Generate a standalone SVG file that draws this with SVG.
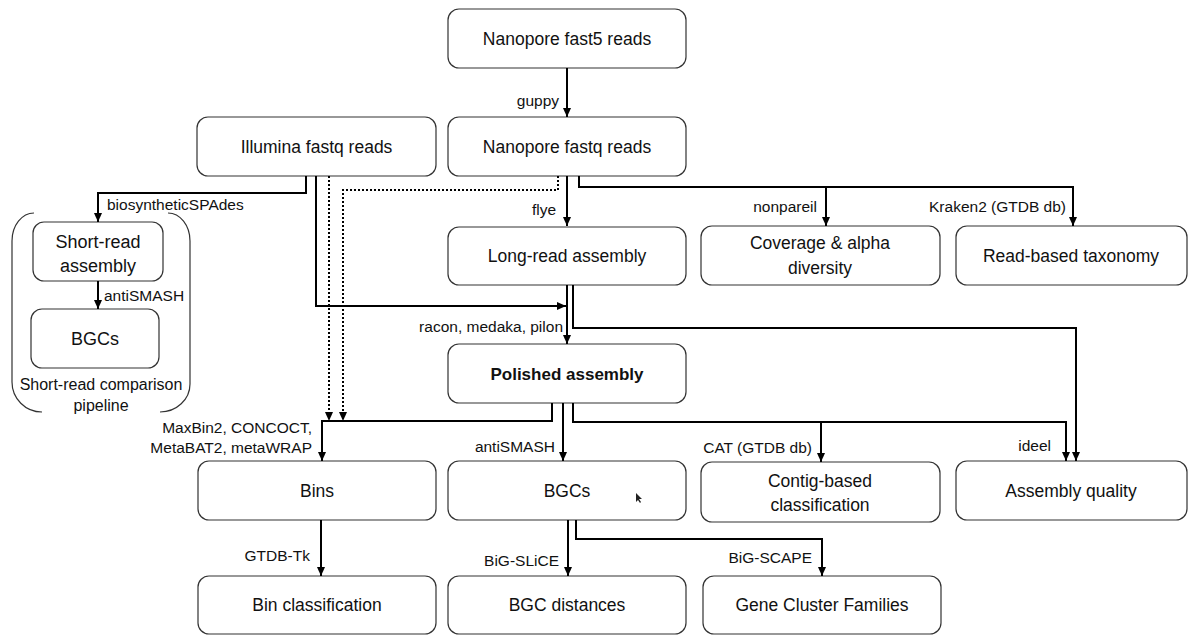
<svg xmlns="http://www.w3.org/2000/svg" width="1190" height="635" viewBox="0 0 1190 635">
<defs>
<marker id="ah" markerUnits="userSpaceOnUse" markerWidth="10" markerHeight="10" viewBox="0 0 10 10" refX="9" refY="5" orient="auto">
<path d="M0,1 L9,5 L0,9 Z" fill="#000"/>
</marker>
<style>
.n rect{fill:#fff;stroke:#333;stroke-width:1.2}
.t{font-family:"Liberation Sans",Arial,sans-serif;font-size:17.5px;fill:#111;text-anchor:middle}
.b{font-weight:bold;font-size:17px}
.l{font-family:"Liberation Sans",Arial,sans-serif;font-size:15.5px;fill:#111}
.e{text-anchor:end}
.c path,.c line{fill:none;stroke:#000;stroke-width:2}
.c .a{marker-end:url(#ah)}
.c .d{stroke-dasharray:2 2;stroke-width:2}
</style>
</defs>
<rect width="1190" height="635" fill="#fff"/>

<g id="bracket" fill="none" stroke="#333" stroke-width="1.2">
<path d="M34 213 A22 28 0 0 0 12 241 L12 382 A30 30 0 0 0 42 412"/>
<path d="M168 213 A22 28 0 0 1 190 241 L190 384 A30 28 0 0 1 160 412"/>
<text class="t" x="101" y="390" font-size="16" stroke="none" style="font-size:16px">Short-read comparison</text>
<text class="t" x="101" y="411" stroke="none" style="font-size:16px">pipeline</text>
</g>

<g id="fast5" class="n"><rect x="448" y="9" width="238" height="59" rx="11"/><text class="t" x="567" y="45">Nanopore fast5 reads</text></g>
<g id="illumina" class="n"><rect x="197" y="117" width="239" height="59" rx="11"/><text class="t" x="316.5" y="153">Illumina fastq reads</text></g>
<g id="fastq" class="n"><rect x="448" y="117" width="238" height="59" rx="11"/><text class="t" x="567" y="153">Nanopore fastq reads</text></g>
<g id="shortasm" class="n"><rect x="33" y="222" width="130" height="59" rx="11"/><text class="t" x="98" y="248" style="font-size:18px">Short-read</text><text class="t" x="98" y="272" style="font-size:18px">assembly</text></g>
<g id="bgcs_short" class="n"><rect x="31" y="309" width="128" height="59" rx="11"/><text class="t" x="95" y="345" style="font-size:18px">BGCs</text></g>
<g id="longasm" class="n"><rect x="448" y="227" width="238" height="58" rx="11"/><text class="t" x="567" y="262">Long-read assembly</text></g>
<g id="coverage" class="n"><rect x="701" y="226" width="239" height="59" rx="11"/><text class="t" x="820" y="249">Coverage &amp; alpha</text><text class="t" x="820" y="274">diversity</text></g>
<g id="readtax" class="n"><rect x="956" y="226" width="231" height="59" rx="11"/><text class="t" x="1071" y="262">Read-based taxonomy</text></g>
<g id="polished" class="n"><rect x="448" y="344" width="238" height="59" rx="11"/><text class="t b" x="567" y="380">Polished assembly</text></g>
<g id="bins" class="n"><rect x="198" y="461" width="238" height="59" rx="11"/><text class="t" x="317" y="497">Bins</text></g>
<g id="bgcs" class="n"><rect x="448" y="461" width="238" height="59" rx="11"/><text class="t" x="567" y="497">BGCs</text></g>
<g id="contig" class="n"><rect x="701" y="462" width="239" height="60" rx="11"/><text class="t" x="820" y="487">Contig-based</text><text class="t" x="820" y="511">classification</text></g>
<g id="aq" class="n"><rect x="956" y="461" width="231" height="59" rx="11"/><text class="t" x="1071" y="497">Assembly quality</text></g>
<g id="binclass" class="n"><rect x="198" y="576" width="238" height="58" rx="11"/><text class="t" x="317" y="611">Bin classification</text></g>
<g id="bgcdist" class="n"><rect x="448" y="576" width="238" height="58" rx="11"/><text class="t" x="567" y="611">BGC distances</text></g>
<g id="gcf" class="n"><rect x="703" y="576" width="238" height="58" rx="11"/><text class="t" x="822" y="611">Gene Cluster Families</text></g>

<g id="connectors" class="c">
<path class="a" d="M567 68 V117"/>
<path class="a" d="M306 176 V193 H98 V222"/>
<path class="a" d="M98 281 V309"/>
<path class="a" d="M316 176 V306 H566"/>
<path class="a d" d="M329 176 V421"/>
<path class="a d" d="M558 176 V190 H343 V421"/>
<path class="a" d="M567 176 V226"/>
<path class="a" d="M579 176 V187 H1073 V226"/>
<path class="a" d="M826 187 V226"/>
<path class="a" d="M567 285 V344"/>
<path class="a" d="M573 285 V328 H1076 V461"/>
<path class="a" d="M552 403 V421 H322 V461"/>
<path class="a" d="M563 403 V461"/>
<path class="a" d="M573 403 V422 H1066 V461"/>
<path class="a" d="M821 422 V462"/>
<path class="a" d="M321 520 V576"/>
<path class="a" d="M568 520 V576"/>
<path class="a" d="M576 520 V539 H822 V576"/>
</g>

<g id="labels">
<text class="l e" x="559" y="106">guppy</text>
<text class="l" x="107" y="210">biosyntheticSPAdes</text>
<text class="l" x="104" y="301">antiSMASH</text>
<text class="l e" x="556" y="215">flye</text>
<text class="l e" x="817" y="212">nonpareil</text>
<text class="l e" x="1066" y="212">Kraken2 (GTDB db)</text>
<text class="l e" x="563" y="332">racon, medaka, pilon</text>
<text class="l e" x="312" y="433">MaxBin2, CONCOCT,</text>
<text class="l e" x="312" y="453">MetaBAT2, metaWRAP</text>
<text class="l e" x="555" y="452">antiSMASH</text>
<text class="l e" x="812" y="453">CAT (GTDB db)</text>
<text class="l e" x="1051" y="451">ideel</text>
<text class="l e" x="310" y="561">GTDB-Tk</text>
<text class="l e" x="559" y="566">BiG-SLiCE</text>
<text class="l e" x="812" y="563">BiG-SCAPE</text>
</g>

<path id="cursor" d="M636 493 L636 502 L638 500 L640 503 L641 502 L639 499 L642 499 Z" fill="#222"/>
</svg>
